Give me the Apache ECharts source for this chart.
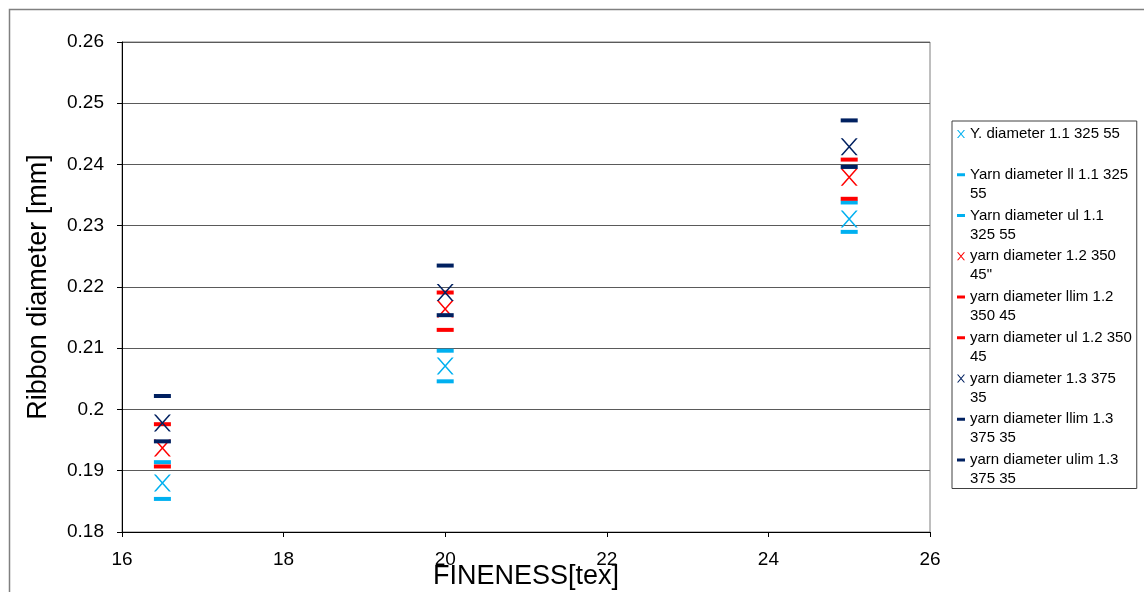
<!DOCTYPE html>
<html>
<head>
<meta charset="utf-8">
<script src="https://cdn.jsdelivr.net/npm/echarts@6/dist/echarts.min.js"></script>
<style>
  html, body { margin: 0; padding: 0; background: #ffffff; }
  #chart { width: 1144px; height: 592px; }
</style>
</head>
<body>
<div id="chart"></div>
<script>
// Fineness of the yarn [tex] at which each ribbon diameter was measured
const fineness = [16.5, 20, 25];

// Ribbon diameters [mm]: measured value with lower and upper limits per setting
const diam11 = [0.1880, 0.2071, 0.2311];
const diam11Low = [0.1854, 0.2046, 0.2290];
const diam11Up = [0.1914, 0.2096, 0.2338];
const diam12 = [0.1937, 0.2164, 0.2379];
const diam12Low = [0.1907, 0.2130, 0.2344];
const diam12Up = [0.1976, 0.2191, 0.2408];
const diam13 = [0.1978, 0.2191, 0.2429];
const diam13Low = [0.1948, 0.2154, 0.2396];
const diam13Up = [0.2022, 0.2235, 0.2472];

// Legend labels, wrapped the way they appear in the key
const seriesNames = [
  'Y. diameter 1.1 325 55\n ',
  'Yarn diameter ll 1.1 325\n55',
  'Yarn diameter ul 1.1\n325 55',
  'yarn diameter 1.2 350\n45"',
  'yarn diameter llim 1.2\n350 45',
  'yarn diameter ul 1.2 350\n45',
  'yarn diameter 1.3 375\n35',
  'yarn diameter llim 1.3\n375 35',
  'yarn diameter ulim 1.3\n375 35'
];

// Axis ticks
const xTicks = { min: 16, max: 26, interval: 2 };
const yTicks = { min: 0.18, max: 0.26, interval: 0.01 };

const LIGHT_BLUE = '#00b0f0';
const RED = '#ff0000';
const NAVY = '#002060';
const FONT = '"Liberation Sans", Arial, sans-serif';

// Thin diagonal cross drawn as a filled shape
const CROSS = 'path://M0 0 L2 0 L17 17 L15 17 Z M15 0 L17 0 L2 17 L0 17 Z';
// Legend icons sit beside the first line of a two-line label
const CROSS_ICON = 'path://M0 0 M0 5.5 L1.3 5.5 L8 13.5 L6.7 13.5 Z M6.7 5.5 L8 5.5 L1.3 13.5 L0 13.5 Z M8 38';
const DASH_ICON = 'path://M0 0 M0 8 L8 8 L8 11 L0 11 Z M8 38';

const seriesDefs = [
  { values: diam11, color: LIGHT_BLUE, kind: 'cross' },
  { values: diam11Low, color: LIGHT_BLUE, kind: 'dash' },
  { values: diam11Up, color: LIGHT_BLUE, kind: 'dash' },
  { values: diam12, color: RED, kind: 'cross' },
  { values: diam12Low, color: RED, kind: 'dash' },
  { values: diam12Up, color: RED, kind: 'dash' },
  { values: diam13, color: NAVY, kind: 'cross' },
  { values: diam13Low, color: NAVY, kind: 'dash' },
  { values: diam13Up, color: NAVY, kind: 'dash' }
];

const series = seriesDefs.map((d, i) => ({
  name: seriesNames[i],
  type: 'scatter',
  data: fineness.map((x, k) => [x, d.values[k]]),
  symbol: d.kind === 'cross' ? CROSS : 'rect',
  symbolSize: d.kind === 'cross' ? [17, 17] : [17, 4],
  itemStyle: { color: d.color, opacity: 1 },
  emphasis: { disabled: true },
  animation: false
}));

const chart = echarts.init(document.getElementById('chart'), null, { renderer: 'canvas' });

chart.setOption({
  backgroundColor: '#ffffff',
  animation: false,
  textStyle: { fontFamily: FONT },
  graphic: [{
    type: 'rect',
    silent: true,
    z: -10,
    shape: { x: 9.5, y: 9.5, width: 1400, height: 900 },
    style: { fill: 'none', stroke: '#808080', lineWidth: 1.5 }
  }],
  grid: {
    left: 122, right: 214, top: 42, bottom: 60,
    containLabel: false,
    outerBoundsMode: 'none',
    show: true, borderColor: '#7f7f7f', borderWidth: 1, backgroundColor: 'transparent'
  },
  legend: {
    orient: 'vertical',
    left: 952,
    top: 121,
    padding: [3.5, 5, 0, 5],
    itemWidth: 8,
    itemHeight: 38,
    itemGap: 2.75,
    selectedMode: false,
    borderColor: '#404040',
    borderWidth: 1,
    backgroundColor: '#ffffff',
    textStyle: { fontFamily: FONT, fontSize: 15, lineHeight: 19, color: '#000000' },
    data: seriesNames.map((n, i) => ({
      name: n,
      icon: seriesDefs[i].kind === 'cross' ? CROSS_ICON : DASH_ICON
    }))
  },
  xAxis: {
    type: 'value',
    min: xTicks.min, max: xTicks.max, interval: xTicks.interval,
    name: 'FINENESS[tex]',
    nameLocation: 'middle',
    nameGap: 31,
    nameMoveOverlap: false,
    nameTextStyle: { fontFamily: FONT, fontSize: 27, color: '#000000' },
    axisLine: { show: true, onZero: false, lineStyle: { color: '#000000', width: 1 } },
    axisTick: { show: true, inside: false, length: 5, lineStyle: { color: '#000000' } },
    axisLabel: { fontFamily: FONT, fontSize: 19, color: '#000000', margin: 18 },
    splitLine: { show: false }
  },
  yAxis: {
    type: 'value',
    min: yTicks.min, max: yTicks.max, interval: yTicks.interval,
    name: 'Ribbon diameter [mm]',
    nameLocation: 'middle',
    nameRotate: 90,
    nameGap: 70,
    nameMoveOverlap: false,
    nameTextStyle: { fontFamily: FONT, fontSize: 27, color: '#000000' },
    axisLine: { show: true, onZero: false, lineStyle: { color: '#000000', width: 1 } },
    axisTick: { show: true, inside: false, length: 5, lineStyle: { color: '#000000' } },
    axisLabel: { fontFamily: FONT, fontSize: 19, color: '#000000', margin: 18 },
    splitLine: { show: true, lineStyle: { color: '#5a5a5a', width: 1 } }
  },
  series: series
});
</script>
</body>
</html>
